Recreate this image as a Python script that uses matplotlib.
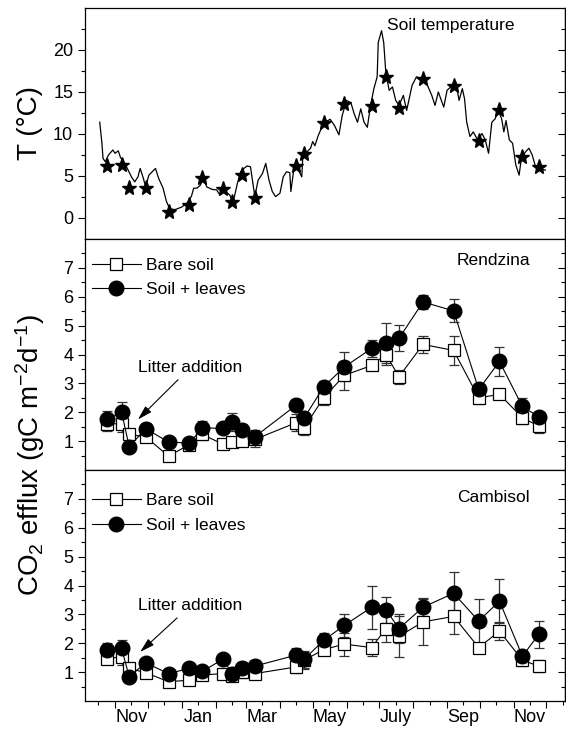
import numpy as np
import matplotlib
matplotlib.use('Agg')
import matplotlib.pyplot as plt
import matplotlib.dates as mdates
from matplotlib.ticker import FixedLocator, FuncFormatter, NullFormatter

plt.rcParams['font.family'] = ['Liberation Sans', 'DejaVu Sans']
plt.rcParams['mathtext.default'] = 'regular'

# measurement dates (flux campaigns + stars on the temperature panel)
dates = np.array(['2006-10-25', '2006-11-07', '2006-11-14', '2006-11-29', '2006-12-20',
                  '2007-01-08', '2007-01-20', '2007-02-08', '2007-02-16', '2007-02-25',
                  '2007-03-09', '2007-04-16', '2007-04-23', '2007-05-11', '2007-05-30',
                  '2007-06-24', '2007-07-07', '2007-07-19', '2007-08-10', '2007-09-07',
                  '2007-09-30', '2007-10-19', '2007-11-09', '2007-11-24'], dtype='datetime64[D]')

temp_at_dates = [6.2, 6.3, 3.55, 3.55, 0.66, 1.57, 4.73, 3.43, 1.85, 5.12, 2.37, 6.23,
                 7.57, 11.36, 13.6, 13.3, 16.84, 13.1, 16.57, 15.77, 9.18, 12.8, 7.29, 6.04]

# continuous soil temperature record, days since 1 Nov 2006
temp_days = [-14, -12, -11, -9, -6, -2, 0, 3, 5, 9, 12, 15, 18, 21, 23, 26, 28, 31, 34, 37,
             40, 44, 47, 50, 55, 61, 66, 70, 72, 75, 78, 81, 84, 89, 93, 96, 101, 105, 108, 112,
             115, 118, 121, 124, 128, 131, 135, 138, 141, 144, 147, 151, 154, 157, 160, 161, 164, 168, 171, 172,
             176, 179, 181, 183, 186, 190, 192, 197, 201, 205, 208, 212, 216, 219, 222, 225, 228, 231, 234, 237,
             240, 241, 244, 246, 248, 251, 254, 257, 260, 264, 267, 272, 276, 281, 286, 290, 293, 296, 301, 304,
             309, 312, 315, 318, 320, 322, 325, 328, 332, 336, 339, 342, 345, 348, 351, 354, 356, 358, 361, 364,
             367, 370, 372, 376, 379, 382, 385, 390, 394]
temp_vals = [11.4, 8.9, 7.1, 6.7, 7.5, 8.1, 7.7, 8.0, 7.2, 6.5, 5.7, 4.9, 4.3, 4.9, 5.9, 4.7, 3.7, 5.1, 5.5, 5.9,
             4.7, 3.55, 2.0, 1.1, 1.0, 1.3, 1.8, 2.6, 3.55, 3.55, 3.9, 4.7, 3.7, 3.4, 3.35, 2.75, 3.15, 2.75, 1.8, 4.1,
             5.5, 5.9, 6.2, 6.1, 2.55, 4.5, 5.3, 6.5, 4.5, 3.15, 2.55, 2.95, 4.9, 5.5, 5.4, 3.15, 6.1, 5.7, 4.9, 7.5,
             7.9, 8.3, 9.1, 8.6, 9.8, 11.0, 11.4, 11.75, 11.0, 9.9, 12.2, 14.0, 13.7, 12.4, 11.4, 13.0, 11.4, 10.8, 13.4, 15.4,
             16.8, 20.9, 22.3, 20.9, 17.2, 15.2, 15.6, 14.0, 13.4, 14.6, 12.8, 15.8, 16.8, 16.6, 15.8, 14.6, 13.4, 15.0, 13.2, 15.2,
             15.8, 16.2, 14.0, 15.4, 14.2, 11.4, 9.7, 10.25, 9.3, 10.05, 9.3, 7.7, 11.4, 11.8, 12.8, 11.8, 10.25, 11.6, 9.3, 8.9,
             6.3, 5.1, 7.1, 7.9, 8.3, 7.5, 6.1, 5.8, 5.7]

# CO2 efflux, Rendzina
rend_bare = [1.6, 1.6, 1.23, 1.15, 0.48, 0.88, 1.23, 0.89, 0.97, 1.0, 1.06, 1.64,
             1.46, 2.5, 3.28, 3.62, 4.0, 3.23, 4.35, 4.14, 2.5, 2.62, 1.81, 1.52]
rend_bare_err = [0.25, 0.3, 0.15, 0.15, 0.1, 0.1, 0.2, 0.15, 0.1, 0.15, 0.25, 0.3,
                 0.25, 0.25, 0.5, 0.15, 0.35, 0.25, 0.3, 0.5, 0.2, 0.15, 0.2, 0.25]
rend_leaves = [1.75, 2.0, 0.81, 1.43, 0.97, 0.93, 1.46, 1.44, 1.66, 1.38, 1.15, 2.25,
               1.79, 2.88, 3.57, 4.21, 4.39, 4.56, 5.82, 5.51, 2.79, 3.76, 2.2, 1.84]
rend_leaves_err = [0.3, 0.35, 0.15, 0.2, 0.1, 0.1, 0.25, 0.15, 0.3, 0.2, 0.25, 0.2,
                   0.15, 0.2, 0.5, 0.3, 0.7, 0.45, 0.25, 0.4, 0.2, 0.5, 0.3, 0.15]

# CO2 efflux, Cambisol
camb_bare = [1.47, 1.53, 1.13, 0.98, 0.67, 0.72, 0.9, 0.95, 0.86, 1.01, 0.95, 1.18,
             1.41, 1.78, 1.97, 1.85, 2.51, 2.24, 2.74, 2.93, 1.85, 2.42, 1.41, 1.21]
camb_bare_err = [0.15, 0.3, 0.1, 0.1, 0.1, 0.1, 0.1, 0.1, 0.1, 0.2, 0.15, 0.2,
                 0.3, 0.2, 0.4, 0.3, 0.45, 0.7, 0.8, 0.6, 0.1, 0.3, 0.2, 0.2]
camb_leaves = [1.76, 1.82, 0.84, 1.32, 0.95, 1.13, 1.03, 1.45, 0.95, 1.16, 1.21, 1.59,
               1.44, 2.1, 2.62, 3.25, 3.16, 2.51, 3.25, 3.73, 2.77, 3.46, 1.55, 2.31]
camb_leaves_err = [0.25, 0.3, 0.15, 0.15, 0.1, 0.15, 0.1, 0.1, 0.15, 0.2, 0.2, 0.25,
                   0.3, 0.25, 0.4, 0.75, 0.45, 0.5, 0.3, 0.75, 0.75, 0.75, 0.2, 0.47]

month_names = {11: 'Nov', 1: 'Jan', 3: 'Mar', 5: 'May', 7: 'July', 9: 'Sep'}

t0 = np.datetime64('2006-11-01')
temp_dates = t0 + np.array(temp_days)

fig = plt.figure(figsize=(5.66, 7.33), dpi=100)
L, R = 85 / 566, 565 / 566
H = 231 / 733
ax_t = fig.add_axes([L, 1 - 239 / 733, R - L, H])
ax_r = fig.add_axes([L, 1 - 470 / 733, R - L, H])
ax_c = fig.add_axes([L, 1 - 701 / 733, R - L, H])

# temperature panel
ax_t.plot(temp_dates, temp_vals, 'k-', lw=0.9)
ax_t.plot(dates, temp_at_dates, 'k*', ms=11)
ax_t.set_ylim(-2.5, 25)
ax_t.yaxis.set_major_locator(FixedLocator([0, 5, 10, 15, 20]))
ax_t.yaxis.set_minor_locator(FixedLocator(np.arange(2.5, 25, 5)))
ax_t.text(0.7625, 0.926, 'Soil temperature', transform=ax_t.transAxes,
          ha='center', va='center', fontsize=12.5)


def flux_panel(ax, bare, bare_err, leaves, leaves_err, name, leg_y, text_y):
    eb_kw = dict(color='k', lw=0.8, ecolor='#333333', elinewidth=0.9, capsize=3.5, capthick=0.9)
    b = ax.errorbar(dates, bare, yerr=bare_err, marker='s', ms=8, mfc='white', mec='k',
                    mew=0.9, **eb_kw)
    l = ax.errorbar(dates, leaves, yerr=leaves_err, marker='o', ms=10.5, mfc='k', mec='k',
                    **eb_kw)
    ax.set_ylim(0, 8)
    ax.yaxis.set_major_locator(FixedLocator([1, 2, 3, 4, 5, 6, 7]))
    ax.yaxis.set_minor_locator(FixedLocator(np.arange(0.5, 8, 1)))
    ax.legend([b[0], l[0]], ['Bare soil', 'Soil + leaves'], loc='upper left',
              bbox_to_anchor=(0.0, leg_y), frameon=False, fontsize=12.5,
              handlelength=2.8, handletextpad=0.3, labelspacing=0.55, borderaxespad=0)
    ax.text(0.927, text_y, name, transform=ax.transAxes, ha='right', va='center', fontsize=12.5)


flux_panel(ax_r, rend_bare, rend_bare_err, rend_leaves, rend_leaves_err, 'Rendzina', 0.95, 0.905)
flux_panel(ax_c, camb_bare, camb_bare_err, camb_leaves, camb_leaves_err, 'Cambisol', 0.93, 0.883)

arrow_kw = dict(arrowstyle='-|>,head_length=0.7,head_width=0.2', color='k', lw=0.8,
                shrinkA=2, shrinkB=0)
ax_r.annotate('Litter addition', xy=(np.datetime64('2006-11-22'), 1.75),
              xytext=(np.datetime64('2007-01-09'), 3.55), ha='center', va='center',
              fontsize=12.5, arrowprops=arrow_kw)
ax_c.annotate('Litter addition', xy=(np.datetime64('2006-11-24'), 1.7),
              xytext=(np.datetime64('2007-01-09'), 3.3), ha='center', va='center',
              fontsize=12.5, arrowprops=arrow_kw)


def month_label(x, pos):
    return month_names.get(mdates.num2date(x).month, '')


for ax in (ax_t, ax_r, ax_c):
    ax.set_xlim(np.datetime64('2006-10-04T12:00'), np.datetime64('2007-12-18'))
    ax.xaxis.set_major_locator(mdates.MonthLocator())
    ax.xaxis.set_minor_locator(mdates.MonthLocator(bymonthday=16))
    ax.xaxis.set_major_formatter(NullFormatter())
    ax.xaxis.set_minor_formatter(NullFormatter())
    ax.tick_params(axis='x', which='major', direction='out', length=5, width=0.8)
    ax.tick_params(axis='x', which='minor', direction='out', length=3, width=0.8)
    ax.tick_params(axis='y', which='major', direction='out', length=5, width=0.8, labelsize=13)
    ax.tick_params(axis='y', which='minor', direction='out', length=3, width=0.8)
    for s in ax.spines.values():
        s.set_linewidth(0.9)
    sec = ax.secondary_yaxis('right')
    sec.yaxis.set_major_locator(ax.yaxis.get_major_locator())
    sec.yaxis.set_minor_locator(ax.yaxis.get_minor_locator())
    sec.tick_params(which='major', direction='in', length=5, width=0.8, labelright=False)
    sec.tick_params(which='minor', direction='in', length=3, width=0.8)
    sec.spines['right'].set_linewidth(0.9)

ax_c.xaxis.set_minor_formatter(FuncFormatter(month_label))
ax_c.tick_params(axis='x', which='minor', labelsize=13, pad=3)

fig.text(30 / 566, 1 - 123 / 733, 'T (°C)', rotation=90, ha='center', va='center', fontsize=20)
fig.text(30 / 566, 1 - 455 / 733, r'CO$_2$ efflux (gC m$^{-2}$d$^{-1}$)', rotation=90,
         ha='center', va='center', fontsize=20)

fig.savefig('out.png', dpi=100)
